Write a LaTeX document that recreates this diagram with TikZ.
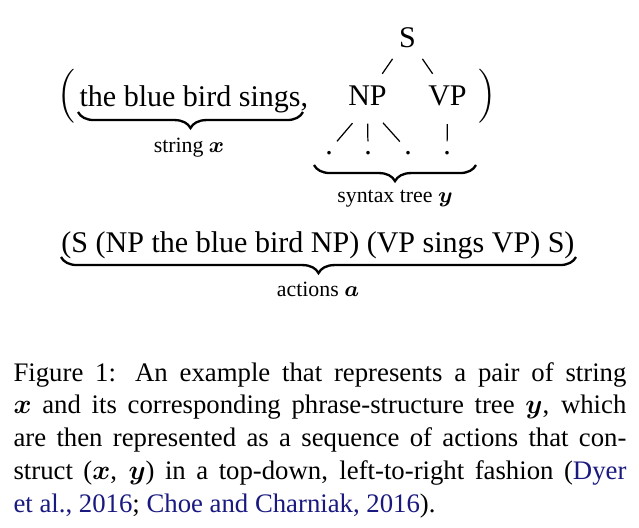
\documentclass[tikz,border=0pt]{standalone}
\usepackage{amsmath}
\usepackage{fontspec}
\setmainfont{Liberation Serif}
\usepackage{bm}
\usetikzlibrary{decorations.pathreplacing}
\definecolor{citeblue}{rgb}{0.1,0.1,0.5}
\begin{document}
\begin{tikzpicture}[x=0.3663pt,y=-0.3663pt,
  word/.style={inner sep=0pt, font=\fontsize{11}{13.6}\selectfont},
  lab/.style={inner sep=0pt, font=\fontsize{8}{9.5}\selectfont},
  ubrace/.style={decorate, decoration={brace, mirror, amplitude=5.9pt}, line width=0.85pt},
  sedge/.style={line width=0.45pt, shorten <=4.9pt, shorten >=4.9pt},
  dedge/.style={line width=0.45pt, shorten <=8.5pt, shorten >=4.5pt},
  vedge/.style={line width=0.45pt, shorten <=6.6pt, shorten >=3.4pt}]
\useasboundingbox (0,0) rectangle (639,527);
% parentheses
\node[word] (lp) at (66,96.5) {$\Big($};
\node[word] (rp) at (487.5,96.5) {$\Big)$};
% string
\node[word, anchor=base west] (str) at (79,106) {the blue bird sings,};
\coordinate (b1l) at (78,112);
\coordinate (b1r) at (303,112);
\draw[ubrace] (b1l) -- (b1r);
\node[lab, anchor=base] (strlab) at (189,152) {string $\bm{x}$};
% tree
\node[word, anchor=base] (S) at (407.5,47) {S};
\node[word, anchor=base] (NP) at (367.5,105) {NP};
\node[word, anchor=base] (VP) at (447.5,105) {VP};
\node[word] (d1) at (329,153) {.};
\node[word] (d2) at (368,153) {.};
\node[word] (d3) at (408,153) {.};
\node[word] (d4) at (447,153) {.};
\draw[sedge] (S) -- (NP);
\draw[sedge] (S) -- (VP);
\draw[dedge] (NP.south) -- (d1.north);
\draw[vedge] (NP.south) -- (d2.north);
\draw[dedge] (NP.south) -- (d3.north);
\draw[vedge] (VP.south) -- (d4.north);
\coordinate (b2l) at (314,165);
\coordinate (b2r) at (476,165);
\draw[ubrace] (b2l) -- (b2r);
\node[lab, anchor=base] (treelab) at (395,202) {syntax tree $\bm{y}$};
% actions
\node[word, anchor=base] (act) at (318,252) {(S (NP the blue bird NP) (VP sings VP) S)};
\coordinate (b3l) at (61,257);
\coordinate (b3r) at (576,257);
\draw[ubrace] (b3l) -- (b3r);
\node[lab, anchor=base] (actlab) at (318,296) {actions $\bm{a}$};
% caption
\node[inner sep=0pt, anchor=base west] (cap) at (13,381) {\parbox[t]{224.5pt}{\fontsize{9.8}{12}\selectfont\parindent=0pt
\makebox[\linewidth][s]{Figure 1: An example that represents a pair of string}\par
\makebox[\linewidth][s]{$\bm{x}$ and its corresponding phrase-structure tree $\bm{y}$, which}\par
\makebox[\linewidth][s]{are then represented as a sequence of actions that con-}\par
\makebox[\linewidth][s]{struct ($\bm{x}$, $\bm{y}$) in a top-down, left-to-right fashion ({\color{citeblue}Dyer}}\par
{\color{citeblue}et al., 2016}; {\color{citeblue}Choe and Charniak, 2016}).}};
\end{tikzpicture}
\end{document}
